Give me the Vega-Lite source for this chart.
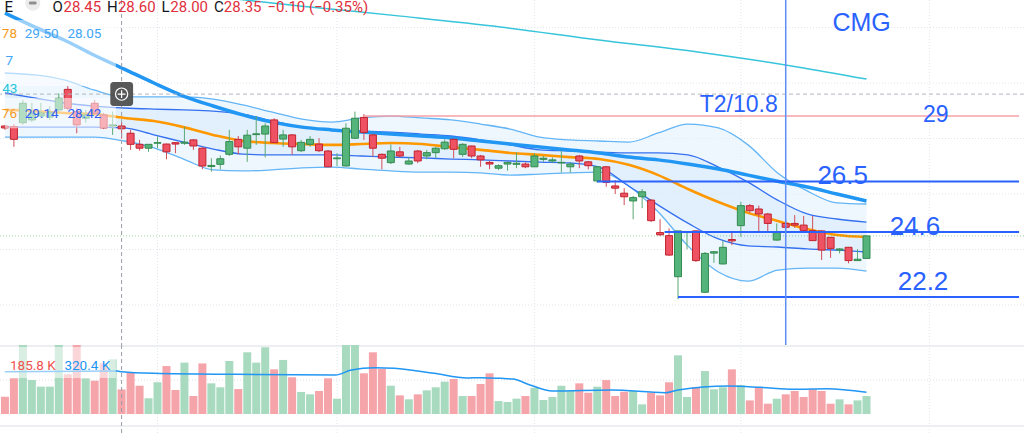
{
  "$schema": "https://vega.github.io/schema/vega-lite/v6.json",
  "padding": 0,
  "spacing": 0,
  "config": {"view": {"stroke": null}, "concat": {"spacing": 0}},
  "datasets": {
    "c": [
      {"i": -1, "o": 28.45, "h": 28.49, "l": 28.31, "c": 28.38, "v": 131},
      {"i": 0, "o": 28.43, "h": 28.52, "l": 27.70, "c": 27.97, "v": 270},
      {"i": 1, "o": 28.57, "h": 29.39, "l": 28.49, "c": 29.27, "v": 600},
      {"i": 2, "o": 28.67, "h": 29.28, "l": 28.59, "c": 28.92, "v": 257},
      {"i": 3, "o": 28.81, "h": 29.28, "l": 28.74, "c": 28.92, "v": 207},
      {"i": 4, "o": 28.77, "h": 29.17, "l": 28.67, "c": 28.95, "v": 207},
      {"i": 5, "o": 29.03, "h": 29.63, "l": 28.97, "c": 29.45, "v": 600},
      {"i": 6, "o": 29.77, "h": 29.89, "l": 29.03, "c": 29.09, "v": 300},
      {"i": 7, "o": 28.97, "h": 29.10, "l": 28.19, "c": 28.49, "v": 600},
      {"i": 8, "o": 28.73, "h": 29.03, "l": 28.57, "c": 28.85, "v": 270},
      {"i": 9, "o": 29.27, "h": 29.39, "l": 28.85, "c": 28.91, "v": 252},
      {"i": 10, "o": 28.85, "h": 28.92, "l": 28.34, "c": 28.38, "v": 383},
      {"i": 11, "o": 28.45, "h": 28.97, "l": 28.13, "c": 28.49, "v": 414},
      {"i": 12, "o": 28.45, "h": 28.60, "l": 28.00, "c": 28.35, "v": 185.8},
      {"i": 13, "o": 28.19, "h": 28.31, "l": 27.59, "c": 27.79, "v": 313},
      {"i": 14, "o": 27.79, "h": 27.95, "l": 27.56, "c": 27.65, "v": 214},
      {"i": 15, "o": 27.65, "h": 27.80, "l": 27.52, "c": 27.79, "v": 119},
      {"i": 16, "o": 27.83, "h": 28.07, "l": 27.65, "c": 27.85, "v": 240},
      {"i": 17, "o": 27.80, "h": 27.82, "l": 27.25, "c": 27.52, "v": 363},
      {"i": 18, "o": 27.85, "h": 27.86, "l": 27.47, "c": 27.80, "v": 182},
      {"i": 19, "o": 27.83, "h": 28.43, "l": 27.77, "c": 27.87, "v": 389},
      {"i": 20, "o": 27.95, "h": 27.98, "l": 27.59, "c": 27.73, "v": 136},
      {"i": 21, "o": 27.65, "h": 27.68, "l": 26.89, "c": 27.01, "v": 383},
      {"i": 22, "o": 26.99, "h": 27.29, "l": 26.80, "c": 27.03, "v": 232},
      {"i": 23, "o": 27.07, "h": 27.39, "l": 26.89, "c": 27.27, "v": 202},
      {"i": 24, "o": 27.43, "h": 28.31, "l": 27.37, "c": 27.89, "v": 401},
      {"i": 25, "o": 27.97, "h": 28.09, "l": 27.44, "c": 27.70, "v": 189},
      {"i": 26, "o": 27.65, "h": 28.31, "l": 27.16, "c": 28.12, "v": 467},
      {"i": 27, "o": 28.14, "h": 28.81, "l": 27.77, "c": 28.17, "v": 389},
      {"i": 28, "o": 28.16, "h": 28.55, "l": 27.32, "c": 28.45, "v": 505},
      {"i": 29, "o": 28.67, "h": 28.73, "l": 27.84, "c": 27.85, "v": 338},
      {"i": 30, "o": 27.98, "h": 28.31, "l": 27.70, "c": 28.13, "v": 409},
      {"i": 31, "o": 28.13, "h": 28.16, "l": 27.41, "c": 27.70, "v": 278},
      {"i": 32, "o": 27.56, "h": 27.95, "l": 27.51, "c": 27.86, "v": 167},
      {"i": 33, "o": 27.79, "h": 28.09, "l": 27.70, "c": 27.97, "v": 149},
      {"i": 34, "o": 27.80, "h": 28.01, "l": 27.51, "c": 27.56, "v": 174},
      {"i": 35, "o": 27.55, "h": 27.59, "l": 26.97, "c": 26.98, "v": 270},
      {"i": 36, "o": 27.27, "h": 27.47, "l": 27.01, "c": 27.30, "v": 116},
      {"i": 37, "o": 27.01, "h": 28.55, "l": 26.99, "c": 28.37, "v": 650},
      {"i": 38, "o": 28.01, "h": 28.97, "l": 27.98, "c": 28.73, "v": 600},
      {"i": 39, "o": 28.76, "h": 28.88, "l": 27.95, "c": 28.22, "v": 308},
      {"i": 40, "o": 28.13, "h": 28.16, "l": 27.34, "c": 27.65, "v": 467},
      {"i": 41, "o": 27.43, "h": 27.46, "l": 26.89, "c": 27.29, "v": 341},
      {"i": 42, "o": 27.13, "h": 27.79, "l": 27.08, "c": 27.55, "v": 214},
      {"i": 43, "o": 27.52, "h": 27.70, "l": 27.32, "c": 27.37, "v": 141},
      {"i": 44, "o": 27.08, "h": 27.32, "l": 27.06, "c": 27.19, "v": 111},
      {"i": 45, "o": 27.55, "h": 27.59, "l": 27.11, "c": 27.19, "v": 149},
      {"i": 46, "o": 27.37, "h": 27.59, "l": 27.25, "c": 27.49, "v": 179},
      {"i": 47, "o": 27.49, "h": 27.70, "l": 27.29, "c": 27.65, "v": 202},
      {"i": 48, "o": 27.63, "h": 27.97, "l": 27.59, "c": 27.87, "v": 245},
      {"i": 49, "o": 27.97, "h": 28.00, "l": 27.29, "c": 27.61, "v": 265},
      {"i": 50, "o": 27.43, "h": 27.83, "l": 27.34, "c": 27.79, "v": 136},
      {"i": 51, "o": 27.73, "h": 27.75, "l": 27.29, "c": 27.37, "v": 136},
      {"i": 52, "o": 27.37, "h": 27.41, "l": 26.98, "c": 27.23, "v": 227},
      {"i": 53, "o": 27.14, "h": 27.19, "l": 26.89, "c": 27.08, "v": 308},
      {"i": 54, "o": 26.93, "h": 27.07, "l": 26.86, "c": 27.02, "v": 98},
      {"i": 55, "o": 27.08, "h": 27.16, "l": 26.84, "c": 27.14, "v": 91},
      {"i": 56, "o": 27.07, "h": 27.50, "l": 26.93, "c": 27.11, "v": 116},
      {"i": 57, "o": 27.08, "h": 27.14, "l": 26.93, "c": 26.98, "v": 136},
      {"i": 58, "o": 26.98, "h": 27.47, "l": 26.97, "c": 27.37, "v": 199},
      {"i": 59, "o": 27.25, "h": 27.37, "l": 27.16, "c": 27.29, "v": 106},
      {"i": 60, "o": 27.19, "h": 27.32, "l": 27.11, "c": 27.23, "v": 129},
      {"i": 61, "o": 27.12, "h": 27.56, "l": 26.77, "c": 27.14, "v": 214},
      {"i": 62, "o": 26.98, "h": 27.14, "l": 26.77, "c": 27.08, "v": 174},
      {"i": 63, "o": 27.37, "h": 27.41, "l": 26.93, "c": 27.19, "v": 232},
      {"i": 64, "o": 27.16, "h": 27.19, "l": 26.89, "c": 27.02, "v": 161},
      {"i": 65, "o": 26.47, "h": 27.01, "l": 26.40, "c": 26.98, "v": 207},
      {"i": 66, "o": 26.98, "h": 27.01, "l": 26.26, "c": 26.42, "v": 257},
      {"i": 67, "o": 26.29, "h": 26.50, "l": 26.00, "c": 26.21, "v": 136},
      {"i": 68, "o": 26.03, "h": 26.21, "l": 25.60, "c": 25.90, "v": 169},
      {"i": 69, "o": 25.75, "h": 25.93, "l": 25.09, "c": 25.87, "v": 174},
      {"i": 70, "o": 25.90, "h": 26.18, "l": 25.49, "c": 26.08, "v": 73},
      {"i": 71, "o": 25.78, "h": 25.82, "l": 24.99, "c": 25.04, "v": 161},
      {"i": 72, "o": 24.61, "h": 25.09, "l": 24.49, "c": 24.53, "v": 141},
      {"i": 73, "o": 24.50, "h": 24.76, "l": 23.77, "c": 23.80, "v": 240},
      {"i": 74, "o": 23.02, "h": 24.67, "l": 22.21, "c": 24.67, "v": 444},
      {"i": 75, "o": 24.61, "h": 24.65, "l": 24.01, "c": 24.64, "v": 129},
      {"i": 76, "o": 24.67, "h": 24.69, "l": 23.55, "c": 23.60, "v": 204},
      {"i": 77, "o": 22.46, "h": 23.91, "l": 22.43, "c": 23.86, "v": 325},
      {"i": 78, "o": 23.87, "h": 23.93, "l": 23.52, "c": 23.92, "v": 187},
      {"i": 79, "o": 23.48, "h": 24.32, "l": 23.46, "c": 24.08, "v": 202},
      {"i": 80, "o": 24.36, "h": 24.67, "l": 24.16, "c": 24.31, "v": 338},
      {"i": 81, "o": 24.86, "h": 25.72, "l": 24.46, "c": 25.58, "v": 219},
      {"i": 82, "o": 25.58, "h": 25.64, "l": 25.32, "c": 25.40, "v": 103},
      {"i": 83, "o": 25.46, "h": 25.58, "l": 24.61, "c": 25.28, "v": 204},
      {"i": 84, "o": 25.28, "h": 25.32, "l": 24.64, "c": 24.94, "v": 78},
      {"i": 85, "o": 24.34, "h": 24.94, "l": 24.32, "c": 24.61, "v": 116},
      {"i": 86, "o": 24.94, "h": 25.06, "l": 24.63, "c": 24.80, "v": 149},
      {"i": 87, "o": 24.94, "h": 25.24, "l": 24.78, "c": 24.88, "v": 174},
      {"i": 88, "o": 24.88, "h": 25.21, "l": 24.63, "c": 24.68, "v": 129},
      {"i": 89, "o": 24.68, "h": 25.21, "l": 24.31, "c": 24.32, "v": 187},
      {"i": 90, "o": 24.67, "h": 24.69, "l": 23.62, "c": 23.98, "v": 174},
      {"i": 91, "o": 24.44, "h": 24.45, "l": 23.70, "c": 24.04, "v": 78},
      {"i": 92, "o": 23.98, "h": 24.05, "l": 23.86, "c": 24.02, "v": 111},
      {"i": 93, "o": 24.08, "h": 24.09, "l": 23.50, "c": 23.60, "v": 73},
      {"i": 94, "o": 23.60, "h": 24.01, "l": 23.59, "c": 23.65, "v": 103},
      {"i": 95, "o": 23.68, "h": 24.50, "l": 23.68, "c": 24.49, "v": 136}
    ],
    "band": [
      {"i": -1, "ou": 30.36, "iu": 29.64, "m": 29.03, "il": 28.41, "ol": 28.05},
      {"i": 2.3, "ou": 30.29, "iu": 29.46, "m": 28.99, "il": 28.41, "ol": 28.05},
      {"i": 5.6, "ou": 30.11, "iu": 29.28, "m": 28.92, "il": 28.41, "ol": 28.05},
      {"i": 8.9, "ou": 29.75, "iu": 29.17, "m": 28.88, "il": 28.41, "ol": 28.05},
      {"i": 12.3, "ou": 29.50, "iu": 29.10, "m": 28.74, "il": 28.38, "ol": 27.91},
      {"i": 15.6, "ou": 29.50, "iu": 29.06, "m": 28.63, "il": 28.13, "ol": 27.66},
      {"i": 18.9, "ou": 29.50, "iu": 29.03, "m": 28.41, "il": 27.87, "ol": 27.26},
      {"i": 22.2, "ou": 29.42, "iu": 28.99, "m": 28.13, "il": 27.62, "ol": 26.87},
      {"i": 25.5, "ou": 29.21, "iu": 28.88, "m": 27.91, "il": 27.44, "ol": 26.83},
      {"i": 28.8, "ou": 28.95, "iu": 28.63, "m": 27.84, "il": 27.41, "ol": 26.87},
      {"i": 32.1, "ou": 28.70, "iu": 28.41, "m": 27.80, "il": 27.41, "ol": 26.94},
      {"i": 35.4, "ou": 28.59, "iu": 28.31, "m": 27.77, "il": 27.41, "ol": 26.97},
      {"i": 38.7, "ou": 28.74, "iu": 28.27, "m": 27.80, "il": 27.37, "ol": 26.90},
      {"i": 42, "ou": 28.81, "iu": 28.23, "m": 27.84, "il": 27.33, "ol": 26.83},
      {"i": 45.4, "ou": 28.74, "iu": 28.16, "m": 27.80, "il": 27.30, "ol": 26.79},
      {"i": 48.7, "ou": 28.67, "iu": 28.09, "m": 27.69, "il": 27.26, "ol": 26.79},
      {"i": 52, "ou": 28.52, "iu": 27.95, "m": 27.59, "il": 27.23, "ol": 26.76},
      {"i": 55.3, "ou": 28.34, "iu": 27.77, "m": 27.48, "il": 27.19, "ol": 26.68},
      {"i": 58.6, "ou": 28.05, "iu": 27.59, "m": 27.41, "il": 27.15, "ol": 26.72},
      {"i": 61.9, "ou": 27.95, "iu": 27.55, "m": 27.33, "il": 27.12, "ol": 26.76},
      {"i": 65.2, "ou": 27.91, "iu": 27.51, "m": 27.26, "il": 26.97, "ol": 26.79},
      {"i": 68.5, "ou": 27.87, "iu": 27.48, "m": 27.05, "il": 26.29, "ol": 26.29},
      {"i": 71.8, "ou": 28.20, "iu": 27.48, "m": 26.68, "il": 25.60, "ol": 25.35},
      {"i": 75.1, "ou": 28.52, "iu": 27.41, "m": 26.18, "il": 24.95, "ol": 24.13},
      {"i": 78.5, "ou": 28.38, "iu": 26.97, "m": 25.71, "il": 24.38, "ol": 23.19},
      {"i": 81.8, "ou": 27.77, "iu": 26.43, "m": 25.32, "il": 24.13, "ol": 22.86},
      {"i": 85.1, "ou": 26.76, "iu": 25.78, "m": 25.03, "il": 24.09, "ol": 23.26},
      {"i": 88.4, "ou": 26.11, "iu": 25.28, "m": 24.74, "il": 24.02, "ol": 23.33},
      {"i": 91.7, "ou": 25.68, "iu": 25.10, "m": 24.52, "il": 23.98, "ol": 23.33},
      {"i": 95, "ou": 25.64, "iu": 24.99, "m": 24.45, "il": 23.91, "ol": 23.22}
    ],
    "ma": [
      {"i": -1, "p": 32.52}, {"i": 2.3, "p": 32.02}, {"i": 5.6, "p": 31.55},
      {"i": 8.9, "p": 31.01}, {"i": 12.3, "p": 30.50}, {"i": 15.6, "p": 30.00},
      {"i": 18.9, "p": 29.53}, {"i": 22.2, "p": 29.17}, {"i": 25.5, "p": 28.85},
      {"i": 28.8, "p": 28.59}, {"i": 32.1, "p": 28.41}, {"i": 35.4, "p": 28.31},
      {"i": 38.7, "p": 28.23}, {"i": 42, "p": 28.16}, {"i": 45.4, "p": 28.09},
      {"i": 48.7, "p": 28.02}, {"i": 52, "p": 27.91}, {"i": 55.3, "p": 27.80},
      {"i": 58.6, "p": 27.69}, {"i": 61.9, "p": 27.59}, {"i": 65.2, "p": 27.48},
      {"i": 68.5, "p": 27.33}, {"i": 71.8, "p": 27.23}, {"i": 75.1, "p": 27.08},
      {"i": 78.5, "p": 26.90}, {"i": 81.8, "p": 26.68}, {"i": 85.1, "p": 26.46},
      {"i": 88.4, "p": 26.25}, {"i": 91.7, "p": 26.00}, {"i": 95, "p": 25.75}
    ],
    "teal": [
      {"i": 23.8, "p": 33.06}, {"i": 32.1, "p": 32.77}, {"i": 43.1, "p": 32.41},
      {"i": 54.2, "p": 32.02}, {"i": 65.2, "p": 31.55}, {"i": 76.2, "p": 31.12},
      {"i": 87.3, "p": 30.58}, {"i": 95, "p": 30.14}
    ],
    "vma": [
      {"i": -1, "v": 320}, {"i": 11.5, "v": 325}, {"i": 12, "v": 320.4},
      {"i": 15.6, "v": 308}, {"i": 24.7, "v": 300}, {"i": 35.8, "v": 295},
      {"i": 37.6, "v": 333}, {"i": 40.2, "v": 351}, {"i": 42.4, "v": 346},
      {"i": 46.8, "v": 308}, {"i": 50.5, "v": 272}, {"i": 52, "v": 275},
      {"i": 54.2, "v": 270}, {"i": 55.6, "v": 265}, {"i": 57.5, "v": 220},
      {"i": 60, "v": 174}, {"i": 66.6, "v": 182}, {"i": 72.6, "v": 161},
      {"i": 74, "v": 182}, {"i": 79.6, "v": 212}, {"i": 83.2, "v": 202},
      {"i": 87, "v": 187}, {"i": 90.6, "v": 192}, {"i": 95, "v": 164}
    ],
    "vgrid": [{"i": 16}, {"i": 36}, {"i": 58}, {"i": 81}, {"i": 102}]
  },
  "vconcat": [
    {
      "width": 1024,
      "height": 345,
      "layer": [
        {
          "data": {"values": [{"p": 32}, {"p": 30}, {"p": 28}, {"p": 26}, {"p": 24}, {"p": 22}]},
          "mark": {"type": "rule", "color": "#e3e5ec", "strokeDash": [1, 2], "clip": true},
          "encoding": {"y": {"field": "p", "type": "quantitative", "scale": {"domain": [20.559, 32.991], "nice": false, "zero": false}, "axis": null}}
        },
        {
          "data": {"name": "vgrid"},
          "mark": {"type": "rule", "color": "#e3e5ec", "strokeDash": [1, 2], "clip": true},
          "encoding": {"x": {"field": "i", "type": "quantitative", "scale": {"domain": [-0.993, 111.994], "nice": false}, "axis": null}}
        },
        {
          "data": {"name": "band"},
          "mark": {"type": "area", "color": "#e3f2fd", "opacity": 0.6, "interpolate": "monotone", "clip": true},
          "encoding": {
            "x": {"field": "i", "type": "quantitative", "scale": {"domain": [-0.993, 111.994], "nice": false}, "axis": null},
            "y": {"field": "ou", "type": "quantitative", "scale": {"domain": [20.559, 32.991], "nice": false, "zero": false}, "axis": null},
            "y2": {"field": "ol"}
          }
        },
        {
          "data": {"name": "band"},
          "mark": {"type": "area", "color": "#cde5fa", "opacity": 0.4, "interpolate": "monotone", "clip": true},
          "encoding": {
            "x": {"field": "i", "type": "quantitative", "scale": {"domain": [-0.993, 111.994], "nice": false}, "axis": null},
            "y": {"field": "iu", "type": "quantitative", "scale": {"domain": [20.559, 32.991], "nice": false, "zero": false}, "axis": null},
            "y2": {"field": "il"}
          }
        },
        {
          "data": {"name": "band"},
          "mark": {"type": "line", "color": "#64b5f6", "strokeWidth": 1.3, "interpolate": "monotone", "clip": true},
          "encoding": {
            "x": {"field": "i", "type": "quantitative", "scale": {"domain": [-0.993, 111.994], "nice": false}, "axis": null},
            "y": {"field": "ou", "type": "quantitative", "scale": {"domain": [20.559, 32.991], "nice": false, "zero": false}, "axis": null}
          }
        },
        {
          "data": {"name": "band"},
          "mark": {"type": "line", "color": "#64b5f6", "strokeWidth": 1.3, "interpolate": "monotone", "clip": true},
          "encoding": {
            "x": {"field": "i", "type": "quantitative", "scale": {"domain": [-0.993, 111.994], "nice": false}, "axis": null},
            "y": {"field": "ol", "type": "quantitative", "scale": {"domain": [20.559, 32.991], "nice": false, "zero": false}, "axis": null}
          }
        },
        {
          "data": {"name": "band"},
          "mark": {"type": "line", "color": "#3470f0", "strokeWidth": 1.3, "interpolate": "monotone", "clip": true},
          "encoding": {
            "x": {"field": "i", "type": "quantitative", "scale": {"domain": [-0.993, 111.994], "nice": false}, "axis": null},
            "y": {"field": "iu", "type": "quantitative", "scale": {"domain": [20.559, 32.991], "nice": false, "zero": false}, "axis": null}
          }
        },
        {
          "data": {"name": "band"},
          "mark": {"type": "line", "color": "#3470f0", "strokeWidth": 1.3, "interpolate": "monotone", "clip": true},
          "encoding": {
            "x": {"field": "i", "type": "quantitative", "scale": {"domain": [-0.993, 111.994], "nice": false}, "axis": null},
            "y": {"field": "il", "type": "quantitative", "scale": {"domain": [20.559, 32.991], "nice": false, "zero": false}, "axis": null}
          }
        },
        {
          "data": {"name": "band"},
          "mark": {"type": "line", "color": "#ff9800", "strokeWidth": 2.6, "interpolate": "monotone", "clip": true},
          "encoding": {
            "x": {"field": "i", "type": "quantitative", "scale": {"domain": [-0.993, 111.994], "nice": false}, "axis": null},
            "y": {"field": "m", "type": "quantitative", "scale": {"domain": [20.559, 32.991], "nice": false, "zero": false}, "axis": null}
          }
        },
        {
          "data": {"name": "ma"},
          "mark": {"type": "line", "color": "#2196f3", "strokeWidth": 3.5, "interpolate": "monotone", "clip": true},
          "encoding": {
            "x": {"field": "i", "type": "quantitative", "scale": {"domain": [-0.993, 111.994], "nice": false}, "axis": null},
            "y": {"field": "p", "type": "quantitative", "scale": {"domain": [20.559, 32.991], "nice": false, "zero": false}, "axis": null}
          }
        },
        {
          "data": {"name": "teal"},
          "mark": {"type": "line", "color": "#36c5da", "strokeWidth": 1.5, "interpolate": "monotone", "clip": true},
          "encoding": {
            "x": {"field": "i", "type": "quantitative", "scale": {"domain": [-0.993, 111.994], "nice": false}, "axis": null},
            "y": {"field": "p", "type": "quantitative", "scale": {"domain": [20.559, 32.991], "nice": false, "zero": false}, "axis": null}
          }
        },
        {
          "data": {"values": [{"p": 24.49}]},
          "mark": {"type": "rule", "color": "#4caf50", "opacity": 0.55, "strokeDash": [1, 2], "clip": true},
          "encoding": {"y": {"field": "p", "type": "quantitative", "scale": {"domain": [20.559, 32.991], "nice": false, "zero": false}, "axis": null}}
        },
        {
          "data": {"name": "c"},
          "mark": {"type": "rule", "strokeWidth": 1, "clip": true},
          "encoding": {
            "x": {"field": "i", "type": "quantitative", "scale": {"domain": [-0.993, 111.994], "nice": false}, "axis": null},
            "y": {"field": "l", "type": "quantitative", "scale": {"domain": [20.559, 32.991], "nice": false, "zero": false}, "axis": null},
            "y2": {"field": "h"},
            "color": {"condition": {"test": "datum.c >= datum.o", "value": "#5aa872"}, "value": "#d24c5a"}
          }
        },
        {
          "data": {"name": "c"},
          "mark": {"type": "bar", "width": 7, "strokeWidth": 1, "clip": true},
          "encoding": {
            "x": {"field": "i", "type": "quantitative", "scale": {"domain": [-0.993, 111.994], "nice": false}, "axis": null},
            "y": {"field": "o", "type": "quantitative", "scale": {"domain": [20.559, 32.991], "nice": false, "zero": false}, "axis": null},
            "y2": {"field": "c"},
            "fill": {"condition": {"test": "datum.c >= datum.o", "value": "#55b47b"}, "value": "#ef5262"},
            "stroke": {"condition": {"test": "datum.c >= datum.o", "value": "#348a50"}, "value": "#c0232f"}
          }
        },
        {
          "data": {"values": [
            {"i0": -1, "i1": 11.36, "p0": 32.27, "p1": 29.89},
            {"i0": -1, "i1": 11.36, "p0": 29.46, "p1": 28.37}
          ]},
          "mark": {"type": "rect", "color": "#ffffff", "opacity": 0.55, "clip": true},
          "encoding": {
            "x": {"field": "i0", "type": "quantitative", "scale": {"domain": [-0.993, 111.994], "nice": false}, "axis": null},
            "x2": {"field": "i1"},
            "y": {"field": "p0", "type": "quantitative", "scale": {"domain": [20.559, 32.991], "nice": false, "zero": false}, "axis": null},
            "y2": {"field": "p1"}
          }
        },
        {
          "data": {"values": [{"i": 12}]},
          "mark": {"type": "rule", "color": "#9a9da6", "strokeDash": [4, 3], "clip": true},
          "encoding": {"x": {"field": "i", "type": "quantitative", "scale": {"domain": [-0.993, 111.994], "nice": false}, "axis": null}}
        },
        {
          "data": {"values": [{"p": 29.60}]},
          "mark": {"type": "rule", "color": "#b2b5be", "strokeDash": [4, 3], "clip": true},
          "encoding": {"y": {"field": "p", "type": "quantitative", "scale": {"domain": [20.559, 32.991], "nice": false, "zero": false}, "axis": null}}
        },
        {
          "data": {"values": [{"i0": 39, "i1": 112, "p": 28.81}]},
          "mark": {"type": "rule", "color": "#f4a1a9", "strokeWidth": 1.6, "clip": true},
          "encoding": {
            "x": {"field": "i0", "type": "quantitative", "scale": {"domain": [-0.993, 111.994], "nice": false}, "axis": null},
            "x2": {"field": "i1"},
            "y": {"field": "p", "type": "quantitative", "scale": {"domain": [20.559, 32.991], "nice": false, "zero": false}, "axis": null}
          }
        },
        {
          "data": {"values": [
            {"i0": 65, "i1": 112, "p": 26.45},
            {"i0": 72.5, "i1": 112, "p": 24.63},
            {"i0": 74, "i1": 112, "p": 22.29}
          ]},
          "mark": {"type": "rule", "color": "#2962ff", "strokeWidth": 2, "clip": true},
          "encoding": {
            "x": {"field": "i0", "type": "quantitative", "scale": {"domain": [-0.993, 111.994], "nice": false}, "axis": null},
            "x2": {"field": "i1"},
            "y": {"field": "p", "type": "quantitative", "scale": {"domain": [20.559, 32.991], "nice": false, "zero": false}, "axis": null}
          }
        },
        {
          "data": {"values": [{"i": 86}]},
          "mark": {"type": "rule", "color": "#5d8ef6", "strokeWidth": 1.5, "clip": true},
          "encoding": {"x": {"field": "i", "type": "quantitative", "scale": {"domain": [-0.993, 111.994], "nice": false}, "axis": null}}
        },
        {
          "data": {"values": [
            {"i": 92.35, "p": 26.36, "t": "26.5"},
            {"i": 100.4, "p": 24.52, "t": "24.6"},
            {"i": 101.3, "p": 22.54, "t": "22.2"}
          ]},
          "mark": {"type": "text", "color": "#2962ff", "font": "Liberation Sans", "fontSize": 26, "align": "center", "baseline": "alphabetic", "clip": true},
          "encoding": {
            "x": {"field": "i", "type": "quantitative", "scale": {"domain": [-0.993, 111.994], "nice": false}, "axis": null},
            "y": {"field": "p", "type": "quantitative", "scale": {"domain": [20.559, 32.991], "nice": false, "zero": false}, "axis": null},
            "text": {"field": "t"}
          }
        },
        {
          "data": {"values": [
            {"i": 80.77, "p": 28.95, "t": "T2/10.8"},
            {"i": 102.73, "p": 28.59, "t": "29"}
          ]},
          "mark": {"type": "text", "color": "#2962ff", "font": "Liberation Sans", "fontSize": 23, "align": "center", "baseline": "alphabetic", "clip": true},
          "encoding": {
            "x": {"field": "i", "type": "quantitative", "scale": {"domain": [-0.993, 111.994], "nice": false}, "axis": null},
            "y": {"field": "p", "type": "quantitative", "scale": {"domain": [20.559, 32.991], "nice": false, "zero": false}, "axis": null},
            "text": {"field": "t"}
          }
        },
        {
          "data": {"values": [{"i": 94.45, "p": 31.87, "t": "CMG"}]},
          "mark": {"type": "text", "color": "#2962ff", "font": "Liberation Sans", "fontSize": 25, "align": "center", "baseline": "alphabetic", "clip": true},
          "encoding": {
            "x": {"field": "i", "type": "quantitative", "scale": {"domain": [-0.993, 111.994], "nice": false}, "axis": null},
            "y": {"field": "p", "type": "quantitative", "scale": {"domain": [20.559, 32.991], "nice": false, "zero": false}, "axis": null},
            "text": {"field": "t"}
          }
        },
        {
          "data": {"values": [{"i": 2.1, "p": 32.88}]},
          "mark": {"type": "point", "shape": "circle", "size": 230, "filled": true, "color": "#ececec", "opacity": 1, "clip": true},
          "encoding": {
            "x": {"field": "i", "type": "quantitative", "scale": {"domain": [-0.993, 111.994], "nice": false}, "axis": null},
            "y": {"field": "p", "type": "quantitative", "scale": {"domain": [20.559, 32.991], "nice": false, "zero": false}, "axis": null}
          }
        },
        {
          "data": {"values": [{"i0": 1.66, "i1": 2.54, "p0": 32.94, "p1": 32.83}]},
          "mark": {"type": "rect", "color": "#8f8f8f", "cornerRadius": 1.5, "clip": true},
          "encoding": {
            "x": {"field": "i0", "type": "quantitative", "scale": {"domain": [-0.993, 111.994], "nice": false}, "axis": null},
            "x2": {"field": "i1"},
            "y": {"field": "p0", "type": "quantitative", "scale": {"domain": [20.559, 32.991], "nice": false, "zero": false}, "axis": null},
            "y2": {"field": "p1"}
          }
        },
        {
          "data": {"values": [
            {"i": -1.05, "p": 32.56, "t": "E"},
            {"i": 4.30, "p": 32.56, "t": "O"},
            {"i": 10.37, "p": 32.56, "t": "H"},
            {"i": 16.44, "p": 32.56, "t": "L"},
            {"i": 22.29, "p": 32.56, "t": "C"}
          ]},
          "mark": {"type": "text", "color": "#131722", "font": "Roboto", "fontSize": 15, "align": "left", "baseline": "alphabetic", "clip": true},
          "encoding": {
            "x": {"field": "i", "type": "quantitative", "scale": {"domain": [-0.993, 111.994], "nice": false}, "axis": null},
            "y": {"field": "p", "type": "quantitative", "scale": {"domain": [20.559, 32.991], "nice": false, "zero": false}, "axis": null},
            "text": {"field": "t"}
          }
        },
        {
          "data": {"values": [
            {"i": 5.52, "p": 32.56, "t": "28.45"},
            {"i": 11.59, "p": 32.56, "t": "28.60"},
            {"i": 17.43, "p": 32.56, "t": "28.00"},
            {"i": 23.39, "p": 32.56, "t": "28.35"},
            {"i": 28.25, "p": 32.56, "t": "−0.10"},
            {"i": 32.88, "p": 32.56, "t": "(−0.35%)"}
          ]},
          "mark": {"type": "text", "color": "#e0303c", "font": "Roboto", "fontSize": 15, "align": "left", "baseline": "alphabetic", "clip": true},
          "encoding": {
            "x": {"field": "i", "type": "quantitative", "scale": {"domain": [-0.993, 111.994], "nice": false}, "axis": null},
            "y": {"field": "p", "type": "quantitative", "scale": {"domain": [20.559, 32.991], "nice": false, "zero": false}, "axis": null},
            "text": {"field": "t"}
          }
        },
        {
          "data": {"values": [
            {"i": -1.35, "p": 31.62, "t": "78"},
            {"i": -1.35, "p": 28.74, "t": "76"}
          ]},
          "mark": {"type": "text", "color": "#f59a23", "font": "Roboto", "fontSize": 13.5, "align": "left", "baseline": "alphabetic", "clip": true},
          "encoding": {
            "x": {"field": "i", "type": "quantitative", "scale": {"domain": [-0.993, 111.994], "nice": false}, "axis": null},
            "y": {"field": "p", "type": "quantitative", "scale": {"domain": [20.559, 32.991], "nice": false, "zero": false}, "axis": null},
            "text": {"field": "t"}
          }
        },
        {
          "data": {"values": [
            {"i": 1.21, "p": 31.62, "t": "29.50"},
            {"i": 5.96, "p": 31.62, "t": "28.05"},
            {"i": -0.95, "p": 30.65, "t": "7"}
          ]},
          "mark": {"type": "text", "color": "#42a5f5", "font": "Roboto", "fontSize": 13.5, "align": "left", "baseline": "alphabetic", "clip": true},
          "encoding": {
            "x": {"field": "i", "type": "quantitative", "scale": {"domain": [-0.993, 111.994], "nice": false}, "axis": null},
            "y": {"field": "p", "type": "quantitative", "scale": {"domain": [20.559, 32.991], "nice": false, "zero": false}, "axis": null},
            "text": {"field": "t"}
          }
        },
        {
          "data": {"values": [{"i": -1.3, "p": 29.64, "t": "43"}]},
          "mark": {"type": "text", "color": "#26c6da", "font": "Roboto", "fontSize": 13.5, "align": "left", "baseline": "alphabetic", "clip": true},
          "encoding": {
            "x": {"field": "i", "type": "quantitative", "scale": {"domain": [-0.993, 111.994], "nice": false}, "axis": null},
            "y": {"field": "p", "type": "quantitative", "scale": {"domain": [20.559, 32.991], "nice": false, "zero": false}, "axis": null},
            "text": {"field": "t"}
          }
        },
        {
          "data": {"values": [
            {"i": 1.21, "p": 28.74, "t": "29.14"},
            {"i": 5.96, "p": 28.74, "t": "28.42"}
          ]},
          "mark": {"type": "text", "color": "#2f62f5", "font": "Roboto", "fontSize": 13.5, "align": "left", "baseline": "alphabetic", "clip": true},
          "encoding": {
            "x": {"field": "i", "type": "quantitative", "scale": {"domain": [-0.993, 111.994], "nice": false}, "axis": null},
            "y": {"field": "p", "type": "quantitative", "scale": {"domain": [20.559, 32.991], "nice": false, "zero": false}, "axis": null},
            "text": {"field": "t"}
          }
        },
        {
          "data": {"values": [{"i0": 10.74, "i1": 13.28, "p0": 30.04, "p1": 29.17}]},
          "mark": {"type": "rect", "color": "#4a4a4a", "opacity": 0.92, "cornerRadius": 3, "clip": true},
          "encoding": {
            "x": {"field": "i0", "type": "quantitative", "scale": {"domain": [-0.993, 111.994], "nice": false}, "axis": null},
            "x2": {"field": "i1"},
            "y": {"field": "p0", "type": "quantitative", "scale": {"domain": [20.559, 32.991], "nice": false, "zero": false}, "axis": null},
            "y2": {"field": "p1"}
          }
        },
        {
          "data": {"values": [{"i": 12, "p": 29.60}]},
          "mark": {"type": "point", "shape": "circle", "size": 150, "filled": false, "color": "#ffffff", "strokeWidth": 1.2, "opacity": 1, "clip": true},
          "encoding": {
            "x": {"field": "i", "type": "quantitative", "scale": {"domain": [-0.993, 111.994], "nice": false}, "axis": null},
            "y": {"field": "p", "type": "quantitative", "scale": {"domain": [20.559, 32.991], "nice": false, "zero": false}, "axis": null}
          }
        },
        {
          "data": {"values": [{"i": 12, "p": 29.60}]},
          "mark": {"type": "point", "shape": "M-1,0L1,0M0,-1L0,1", "size": 60, "filled": false, "color": "#ffffff", "strokeWidth": 1.2, "opacity": 1, "clip": true},
          "encoding": {
            "x": {"field": "i", "type": "quantitative", "scale": {"domain": [-0.993, 111.994], "nice": false}, "axis": null},
            "y": {"field": "p", "type": "quantitative", "scale": {"domain": [20.559, 32.991], "nice": false, "zero": false}, "axis": null}
          }
        }
      ]
    },
    {
      "width": 1024,
      "height": 88,
      "layer": [
        {
          "data": {"name": "vgrid"},
          "mark": {"type": "rule", "color": "#e3e5ec", "strokeDash": [1, 2], "clip": true},
          "encoding": {"x": {"field": "i", "type": "quantitative", "scale": {"domain": [-0.993, 111.994], "nice": false}, "axis": null}}
        },
        {
          "data": {"values": [{"v": 257}]},
          "mark": {"type": "rule", "color": "#dcdfe6", "strokeDash": [1, 2], "clip": true},
          "encoding": {"y": {"field": "v", "type": "quantitative", "scale": {"domain": [-143.8, 522.3], "nice": false, "zero": false}, "axis": null}}
        },
        {
          "data": {"values": [{"v": 515}, {"v": -91}]},
          "mark": {"type": "rule", "color": "#e6e8ed", "strokeWidth": 1.5, "clip": true},
          "encoding": {"y": {"field": "v", "type": "quantitative", "scale": {"domain": [-143.8, 522.3], "nice": false, "zero": false}, "axis": null}}
        },
        {
          "data": {"name": "c"},
          "mark": {"type": "bar", "width": 8, "clip": true},
          "encoding": {
            "x": {"field": "i", "type": "quantitative", "scale": {"domain": [-0.993, 111.994], "nice": false}, "axis": null},
            "y": {"field": "v", "type": "quantitative", "scale": {"domain": [-143.8, 522.3], "nice": false, "zero": false}, "axis": null},
            "y2": {"datum": 0},
            "color": {"condition": {"test": "datum.c >= datum.o", "value": "#a8dabf"}, "value": "#f5a4aa"}
          }
        },
        {
          "data": {"name": "vma"},
          "mark": {"type": "line", "color": "#2196f3", "strokeWidth": 1.5, "interpolate": "monotone", "clip": true},
          "encoding": {
            "x": {"field": "i", "type": "quantitative", "scale": {"domain": [-0.993, 111.994], "nice": false}, "axis": null},
            "y": {"field": "v", "type": "quantitative", "scale": {"domain": [-143.8, 522.3], "nice": false, "zero": false}, "axis": null}
          }
        },
        {
          "data": {"values": [{"i0": -1, "i1": 11.36, "v0": 507, "v1": 272}]},
          "mark": {"type": "rect", "color": "#ffffff", "opacity": 0.55, "clip": true},
          "encoding": {
            "x": {"field": "i0", "type": "quantitative", "scale": {"domain": [-0.993, 111.994], "nice": false}, "axis": null},
            "x2": {"field": "i1"},
            "y": {"field": "v0", "type": "quantitative", "scale": {"domain": [-143.8, 522.3], "nice": false, "zero": false}, "axis": null},
            "y2": {"field": "v1"}
          }
        },
        {
          "data": {"values": [{"i": 12}]},
          "mark": {"type": "rule", "color": "#9a9da6", "strokeDash": [4, 3], "clip": true},
          "encoding": {"x": {"field": "i", "type": "quantitative", "scale": {"domain": [-0.993, 111.994], "nice": false}, "axis": null}}
        },
        {
          "data": {"values": [{"i": -0.44, "v": 333, "t": "185.8 K"}]},
          "mark": {"type": "text", "color": "#ef5350", "font": "Roboto", "fontSize": 13.5, "align": "left", "baseline": "alphabetic", "clip": true},
          "encoding": {
            "x": {"field": "i", "type": "quantitative", "scale": {"domain": [-0.993, 111.994], "nice": false}, "axis": null},
            "y": {"field": "v", "type": "quantitative", "scale": {"domain": [-143.8, 522.3], "nice": false, "zero": false}, "axis": null},
            "text": {"field": "t"}
          }
        },
        {
          "data": {"values": [{"i": 5.63, "v": 333, "t": "320.4 K"}]},
          "mark": {"type": "text", "color": "#2196f3", "font": "Roboto", "fontSize": 13.5, "align": "left", "baseline": "alphabetic", "clip": true},
          "encoding": {
            "x": {"field": "i", "type": "quantitative", "scale": {"domain": [-0.993, 111.994], "nice": false}, "axis": null},
            "y": {"field": "v", "type": "quantitative", "scale": {"domain": [-143.8, 522.3], "nice": false, "zero": false}, "axis": null},
            "text": {"field": "t"}
          }
        }
      ]
    }
  ]
}
